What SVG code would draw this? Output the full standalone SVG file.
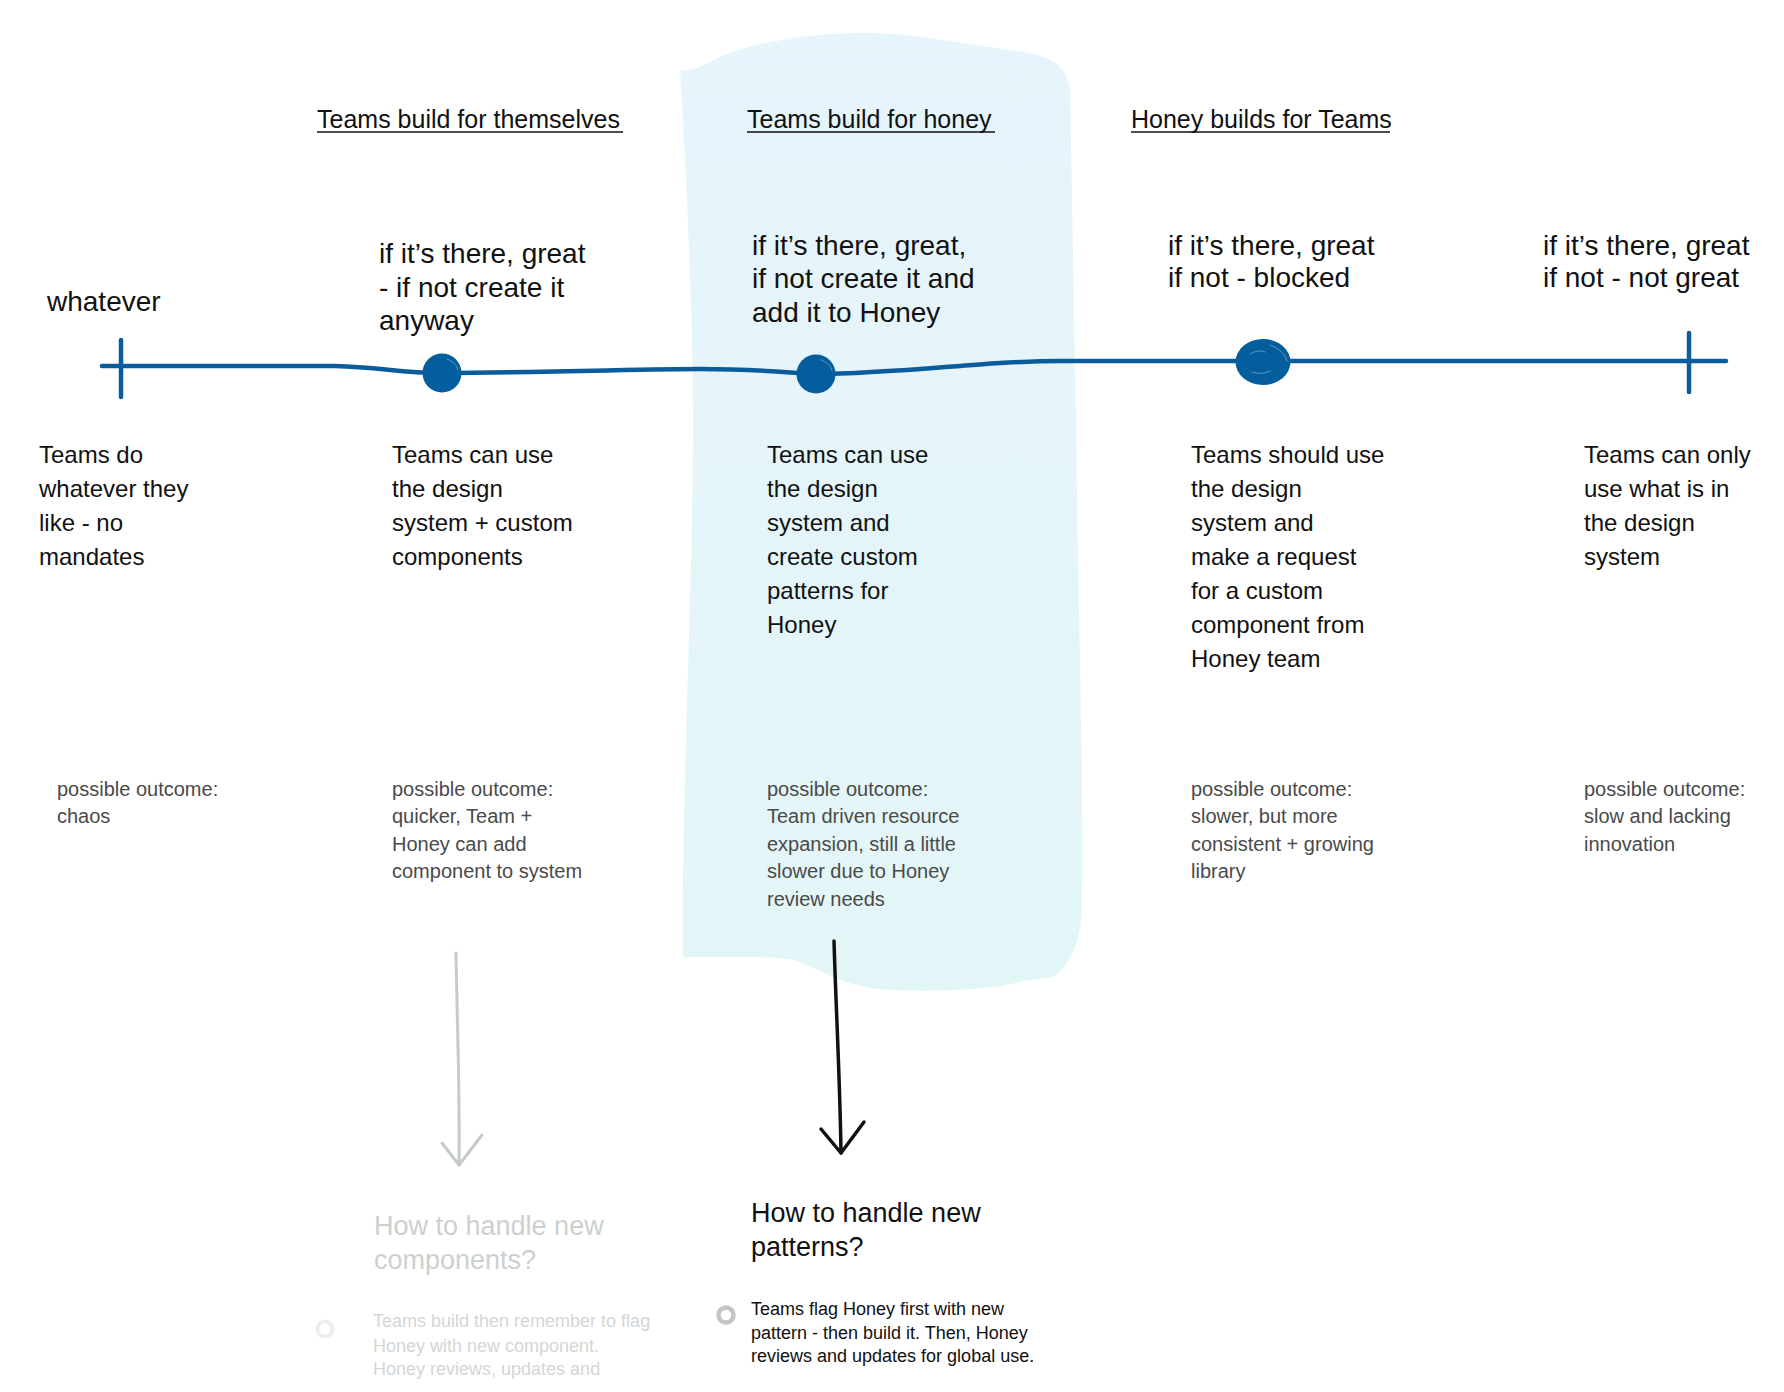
<svg xmlns="http://www.w3.org/2000/svg" width="1784" height="1392" viewBox="0 0 1784 1392">
<defs>
<linearGradient id="blobGrad" x1="0" y1="0" x2="0" y2="1">
<stop offset="0" stop-color="#E6F4FB"/>
<stop offset="1" stop-color="#E3F6F7"/>
</linearGradient>
<style>
text{font-family:"Liberation Sans",Arial,sans-serif;}
.hdr{font-size:25px;fill:#111;}
.top{font-size:28px;fill:#111;}
.body{font-size:24px;fill:#111;}
.out{font-size:20px;fill:#4a4a4a;}
.q{font-size:27px;fill:#111;}
.qfade{font-size:27px;fill:#cdd0d0;}
.small{font-size:18px;fill:#111;}
.smallfade{font-size:18px;fill:#d4d6d6;}
.ul{stroke:#111;stroke-width:1.6;fill:none;}
.tl{stroke:#0A5C9C;stroke-width:4.5;fill:none;stroke-linecap:round;}
.dot{fill:#045E9E;}
.hl{stroke:#ffffff;stroke-width:1;fill:none;opacity:0.35;stroke-linecap:round;}
</style>
</defs>
<rect width="1784" height="1392" fill="#ffffff"/>
<g id="highlight-band">
<path d="M680,70 C692,72 702,66 722,56 C762,40 820,32 870,33 C920,34 962,44 1010,50 C1050,55 1066,64 1070,88 L1076,420 C1078,600 1084,800 1082,900 C1082,930 1078,950 1060,972 C1050,980 1040,978 1020,982 C990,990 940,992 890,990 C850,988 830,975 800,962 C790,958 770,957 750,957 L683,957 C681,800 693,600 693,420 C693,300 685,150 680,70 Z" fill="url(#blobGrad)"/>
</g>
<g id="headers">
<text class="hdr" x="317" y="128">Teams build for themselves</text>
<line class="ul" x1="317" y1="132" x2="623" y2="132"/>
<text class="hdr" x="747" y="128">Teams build for honey</text>
<line class="ul" x1="747" y1="132" x2="995" y2="132"/>
<text class="hdr" x="1131" y="128">Honey builds for Teams</text>
<line class="ul" x1="1131" y1="132" x2="1390" y2="132"/>
</g>
<g id="connectors">
<path class="tl" d="M102,366 L335,366 C380,367 400,373 440,373 C560,372 650,369 700,369 C760,369 790,373 816,374 C880,374 950,366 1000,363 C1020,362 1035,361 1060,361 L1726,361"/>
<line class="tl" x1="121" y1="340" x2="121" y2="397"/>
<line class="tl" x1="1689" y1="333" x2="1689" y2="392"/>
<path d="M456,953 C457,1020 460,1090 459,1165" stroke="#c5caca" stroke-width="3" fill="none" stroke-linecap="round"/>
<path d="M442,1143 L459,1165 L482,1135" stroke="#c5caca" stroke-width="3" fill="none" stroke-linecap="round" stroke-linejoin="round"/>
<path d="M834,941 C836,1010 840,1080 841,1153" stroke="#111" stroke-width="3.5" fill="none" stroke-linecap="round"/>
<path d="M821,1129 L841,1153 L864,1122" stroke="#111" stroke-width="3.5" fill="none" stroke-linecap="round" stroke-linejoin="round"/>
</g>
<g id="node-whatever">
<text class="top" x="47" y="311">whatever</text>
<text class="body" x="39"><tspan x="39" y="463">Teams do</tspan><tspan x="39" y="497">whatever they</tspan><tspan x="39" y="531">like - no</tspan><tspan x="39" y="565">mandates</tspan></text>
<text class="out" x="57"><tspan x="57" y="796">possible outcome:</tspan><tspan x="57" y="823">chaos</tspan></text>
</g>
<g id="node-build-themselves">
<ellipse class="dot" cx="442" cy="373" rx="19.5" ry="19.5"/>
<path class="hl" d="M447,359 C453,361 457,365 458,370"/>
<text class="top"><tspan x="379" y="263">if it’s there, great</tspan><tspan x="379" y="297">- if not create it</tspan><tspan x="379" y="330">anyway</tspan></text>
<text class="body"><tspan x="392" y="463">Teams can use</tspan><tspan x="392" y="497">the design</tspan><tspan x="392" y="531">system + custom</tspan><tspan x="392" y="565">components</tspan></text>
<text class="out"><tspan x="392" y="796">possible outcome:</tspan><tspan x="392" y="823">quicker, Team +</tspan><tspan x="392" y="851">Honey can add</tspan><tspan x="392" y="878">component to system</tspan></text>
</g>
<g id="node-build-honey">
<ellipse class="dot" cx="816" cy="374" rx="19.5" ry="19.5"/>
<path class="hl" d="M821,360 C827,362 831,366 832,371"/>
<text class="top"><tspan x="752" y="255">if it’s there, great,</tspan><tspan x="752" y="288">if not create it and</tspan><tspan x="752" y="322">add it to Honey</tspan></text>
<text class="body"><tspan x="767" y="463">Teams can use</tspan><tspan x="767" y="497">the design</tspan><tspan x="767" y="531">system and</tspan><tspan x="767" y="565">create custom</tspan><tspan x="767" y="599">patterns for</tspan><tspan x="767" y="633">Honey</tspan></text>
<text class="out"><tspan x="767" y="796">possible outcome:</tspan><tspan x="767" y="823">Team driven resource</tspan><tspan x="767" y="851">expansion, still a little</tspan><tspan x="767" y="878">slower due to Honey</tspan><tspan x="767" y="906">review needs</tspan></text>
</g>
<g id="node-honey-builds">
<ellipse class="dot" cx="1263" cy="362" rx="27.5" ry="23"/>
<path class="hl" d="M1270,345 C1279,348 1285,354 1287,361 M1250,354 C1255,351 1260,350 1265,352 M1252,372 C1258,374 1264,374 1270,371"/>
<text class="top"><tspan x="1168" y="255">if it’s there, great</tspan><tspan x="1168" y="287">if not - blocked</tspan></text>
<text class="body"><tspan x="1191" y="463">Teams should use</tspan><tspan x="1191" y="497">the design</tspan><tspan x="1191" y="531">system and</tspan><tspan x="1191" y="565">make a request</tspan><tspan x="1191" y="599">for a custom</tspan><tspan x="1191" y="633">component from</tspan><tspan x="1191" y="667">Honey team</tspan></text>
<text class="out"><tspan x="1191" y="796">possible outcome:</tspan><tspan x="1191" y="823">slower, but more</tspan><tspan x="1191" y="851">consistent + growing</tspan><tspan x="1191" y="878">library</tspan></text>
</g>
<g id="node-only-system">
<text class="top"><tspan x="1543" y="255">if it’s there, great</tspan><tspan x="1543" y="287">if not - not great</tspan></text>
<text class="body"><tspan x="1584" y="463">Teams can only</tspan><tspan x="1584" y="497">use what is in</tspan><tspan x="1584" y="531">the design</tspan><tspan x="1584" y="565">system</tspan></text>
<text class="out"><tspan x="1584" y="796">possible outcome:</tspan><tspan x="1584" y="823">slow and lacking</tspan><tspan x="1584" y="851">innovation</tspan></text>
</g>
<g id="node-new-components">
<text class="qfade"><tspan x="374" y="1235">How to handle new</tspan><tspan x="374" y="1269">components?</tspan></text>
<circle cx="325" cy="1329" r="7.5" fill="none" stroke="#eeeeee" stroke-width="4"/>
<text class="smallfade"><tspan x="373" y="1327">Teams build then remember to flag</tspan><tspan x="373" y="1352">Honey with new component.</tspan><tspan x="373" y="1375">Honey reviews, updates and</tspan></text>
</g>
<g id="node-new-patterns">
<text class="q"><tspan x="751" y="1222">How to handle new</tspan><tspan x="751" y="1256">patterns?</tspan></text>
<circle cx="726" cy="1315" r="7.5" fill="none" stroke="#c4c4c4" stroke-width="4.5"/>
<text class="small"><tspan x="751" y="1315">Teams flag Honey first with new</tspan><tspan x="751" y="1339">pattern - then build it. Then, Honey</tspan><tspan x="751" y="1362">reviews and updates for global use.</tspan></text>
</g>
</svg>
